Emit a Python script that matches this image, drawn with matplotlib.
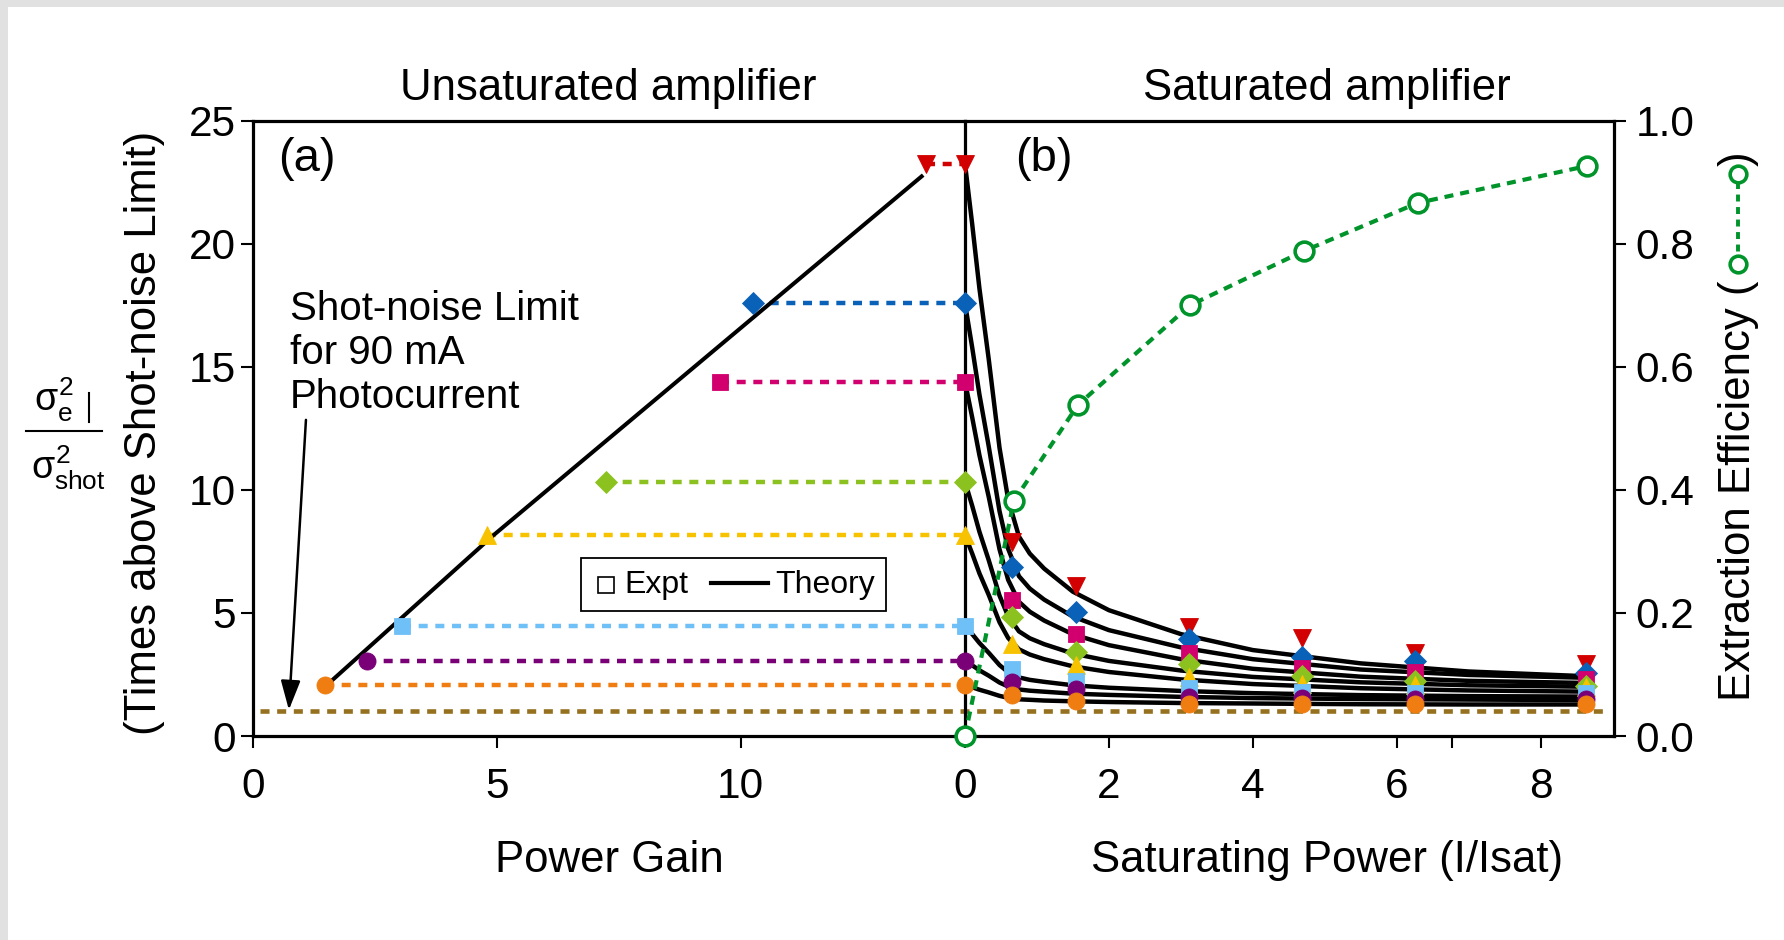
import matplotlib
matplotlib.use('Agg')
import matplotlib.pyplot as plt
from matplotlib.lines import Line2D
from matplotlib.patches import Rectangle

plt.rcParams['font.family'] = ['Liberation Sans', 'DejaVu Sans']
plt.rcParams['mathtext.fontset'] = 'custom'
plt.rcParams['mathtext.rm'] = 'Liberation Sans'
plt.rcParams['mathtext.it'] = 'Liberation Sans'
plt.rcParams['lines.scale_dashes'] = False

W, H = 1784, 940


def fx(px):
    return px / W


def fy(py):
    return 1 - py / H


# ---- data ----
colors = ['#d20000', '#0a62b8', '#d2006e', '#8cc21f', '#f7c300', '#70c0f8', '#7a0078', '#ef7d12']
markers = ['v', 'D', 's', 'D', '^', 's', 'o', 'o']
msizes = [12.5, 11.3, 11.8, 11.3, 12.5, 11.8, 12.3, 12.3]

# (a) unsaturated amplifier: power gain and noise for each run
gain = [13.80, 10.26, 9.58, 7.23, 4.79, 3.05, 2.34, 1.48]
noise_unsat = [23.24, 17.57, 14.39, 10.33, 8.16, 4.48, 3.05, 2.07]

unsat_theory_gain = [1.61, 4.93, 13.71]
unsat_theory_noise = [2.25, 8.16, 22.73]

# (b) saturated amplifier: measured noise vs saturating power
sat_power = [0.0, 0.65, 1.54, 3.12, 4.69, 6.26, 8.63]
sat_red = [23.24, 7.90, 6.10, 4.44, 3.97, 3.36, 2.92]
sat_blue = [17.57, 6.88, 5.02, 3.94, 3.20, 3.06, 2.57]
sat_magenta = [14.39, 5.54, 4.13, 3.38, 2.75, 2.61, 2.30]
sat_green = [10.33, 4.84, 3.43, 2.91, 2.44, 2.25, 2.04]
sat_yellow = [8.16, 3.72, 2.90, 2.41, 2.11, 2.07, 2.00]
sat_lightblue = [4.48, 2.74, 2.23, 1.94, 1.80, 1.73, 1.73]
sat_purple = [3.05, 2.19, 1.90, 1.60, 1.56, 1.50, 1.49]
sat_orange = [2.07, 1.65, 1.42, 1.30, 1.30, 1.30, 1.30]
sat_all = [sat_red, sat_blue, sat_magenta, sat_green, sat_yellow,
           sat_lightblue, sat_purple, sat_orange]

# theory curves in (b)
theory_power = [0, 0.1, 0.2, 0.33, 0.48, 0.6, 0.75, 0.9, 1.1, 1.5, 2.0, 3.0, 4.0, 5.5, 7.0, 8.7]
th_red = [23.24, 20.79, 18.19, 15.30, 11.70, 9.61, 8.10, 7.41, 6.80, 5.86, 5.11, 4.14, 3.49, 2.95, 2.62, 2.42]
th_blue = [17.57, 15.78, 13.88, 11.76, 9.13, 7.60, 6.49, 5.99, 5.54, 4.85, 4.30, 3.60, 3.12, 2.70, 2.48, 2.36]
th_magenta = [14.39, 12.94, 11.41, 9.71, 7.58, 6.34, 5.45, 5.05, 4.69, 4.13, 3.69, 3.12, 2.73, 2.41, 2.24, 2.15]
th_green = [10.33, 9.35, 8.30, 7.14, 5.70, 4.86, 4.25, 3.97, 3.73, 3.35, 3.05, 2.66, 2.40, 2.18, 2.06, 2.00]
th_yellow = [8.16, 7.41, 6.61, 5.73, 4.62, 3.98, 3.52, 3.31, 3.12, 2.83, 2.60, 2.30, 2.11, 1.94, 1.85, 1.80]
th_lightblue = [4.48, 4.14, 3.78, 3.38, 2.88, 2.59, 2.38, 2.28, 2.20, 2.06, 1.96, 1.83, 1.74, 1.66, 1.62, 1.60]
th_purple = [3.05, 2.87, 2.67, 2.45, 2.17, 2.01, 1.89, 1.84, 1.80, 1.72, 1.67, 1.59, 1.54, 1.50, 1.48, 1.46]
th_orange = [2.07, 1.98, 1.88, 1.77, 1.63, 1.55, 1.49, 1.47, 1.44, 1.41, 1.38, 1.34, 1.32, 1.29, 1.28, 1.28]
th_all = [th_red, th_blue, th_magenta, th_green, th_yellow, th_lightblue, th_purple, th_orange]

# extraction efficiency (right axis)
eff_power = [0.0, 0.68, 1.57, 3.13, 4.71, 6.29, 8.64]
efficiency = [0.0, 0.382, 0.538, 0.700, 0.788, 0.866, 0.926]

shot_noise = 1.0
shot_x = [0.13, 27.79]   # in gain units, runs on across panel (b)

green = '#00942b'
brown = '#94701f'

fig = plt.figure(figsize=(W / 100, H / 100), dpi=100)
fig.add_artist(Rectangle((0, fy(7)), 1, 7 / H, transform=fig.transFigure,
                         facecolor='#e1e1e1', edgecolor='none'))
fig.add_artist(Rectangle((0, 0), 8 / W, 1, transform=fig.transFigure,
                         facecolor='#e1e1e1', edgecolor='none'))

top, bot = 120.5, 736
ax_a = fig.add_axes([fx(253.3), fy(bot), (965 - 253.3) / W, (bot - top) / H])
ax_b = fig.add_axes([fx(965), fy(bot), (1614 - 965) / W, (bot - top) / H])
ax_b.patch.set_visible(False)
ax_e = ax_b.twinx()

XA = 14.6
ax_a.set_xlim(0, XA)
ax_a.set_ylim(0, 25)
ax_b.set_xlim(0, 9.02)
ax_b.set_ylim(0, 25)
ax_e.set_ylim(0, 1)

for ax in (ax_a, ax_b, ax_e):
    for s in ax.spines.values():
        s.set_linewidth(2.3)
ax_a.spines['right'].set_visible(False)
ax_b.spines['right'].set_visible(False)
for k in ('left', 'top', 'bottom'):
    ax_e.spines[k].set_visible(False)

tick_kw = dict(direction='out', length=8.6, width=1.5, labelsize=30.5)
ax_a.set_xticks([0, 5, 10])
ax_a.set_yticks([0, 5, 10, 15, 20, 25])
ax_a.tick_params(axis='x', pad=13.5, **tick_kw)
ax_a.tick_params(axis='y', pad=4, **tick_kw)
ax_b.set_xticks([0, 2, 4, 6, 8])
ax_b.set_xticks([6.77], minor=True)
ax_b.tick_params(axis='x', which='both', pad=13.5, **tick_kw)
ax_b.tick_params(axis='y', left=False, labelleft=False)
ax_e.set_yticks([0, 0.2, 0.4, 0.6, 0.8, 1.0])
ax_e.set_yticklabels(['%.1f' % v for v in ax_e.get_yticks()])
ax_e.tick_params(axis='y', pad=7, **tick_kw)

# shot-noise limit
ax_a.plot(shot_x, [shot_noise, shot_noise], color=brown, lw=3.3,
          dashes=(6.5, 5.5), clip_on=False, zorder=1)

# panel (a)
ax_a.plot(unsat_theory_gain, unsat_theory_noise, color='k', lw=2.9, zorder=3)
for g, n, c, m, ms in zip(gain, noise_unsat, colors, markers, msizes):
    ax_a.plot([g, XA], [n, n], color=c, lw=3.2, dashes=(6.5, 5.5), zorder=2)
    ax_a.plot(g, n, marker=m, ms=ms, color=c, mec=c, mew=0.6, zorder=4)

# panel (b)
for th in th_all:
    ax_b.plot(theory_power, th, color='k', lw=3.2, zorder=2,
              solid_capstyle='round', solid_joinstyle='round')
for ys, c, m, ms in zip(sat_all, colors, markers, msizes):
    ax_b.plot(sat_power, ys, ls='none', marker=m, ms=ms, color=c, mec=c,
              mew=0.6, zorder=4, clip_on=False)

ax_e.plot(eff_power, efficiency, color=green, lw=3.0, dashes=(6.5, 5),
          marker='o', ms=13.5, mfc='white', mec=green, mew=2.6,
          clip_on=False, zorder=5)

# annotation
ax_a.text(0.75, 16.9, 'Shot-noise Limit', fontsize=29, va='baseline')
ax_a.text(0.75, 15.11, 'for 90 mA', fontsize=29, va='baseline')
ax_a.text(0.75, 13.32, 'Photocurrent', fontsize=29, va='baseline')
ax_a.annotate('', xy=(0.73, 1.06), xytext=(1.08, 12.84),
              arrowprops=dict(arrowstyle='-|>,head_length=0.9,head_width=0.3',
                              color='k', lw=1.8, shrinkA=0, shrinkB=0,
                              mutation_scale=20))
ax_a.text(0.035, 0.937, '(a)', transform=ax_a.transAxes, fontsize=34, va='center')
ax_b.text(0.0775, 0.937, '(b)', transform=ax_b.transAxes, fontsize=34, va='center')

# legend box
fig.add_artist(Rectangle((fx(581), fy(611)), (886 - 581) / W, (611 - 558) / H,
                         transform=fig.transFigure, facecolor='white',
                         edgecolor='k', lw=1.3))
fig.add_artist(Line2D([fx(605.5)], [fy(584.5)], marker='s', ms=11.5,
                      mfc='white', mec='k', mew=1.2, ls='none'))
fig.text(fx(624.6), fy(592.7), 'Expt', fontsize=23, va='baseline')
fig.add_artist(Line2D([fx(710.7), fx(768)], [fy(583.3), fy(583.3)], color='k', lw=3))
fig.text(fx(775), fy(592.7), 'Theory', fontsize=23, va='baseline')

# titles and axis labels
fig.text(fx(608.7), fy(100), 'Unsaturated amplifier', fontsize=31.5, ha='center', va='baseline')
fig.text(fx(1326.7), fy(100), 'Saturated amplifier', fontsize=31.5, ha='center', va='baseline')
fig.text(fx(609.8), fy(871.7), 'Power Gain', fontsize=31.5, ha='center', va='baseline')
fig.text(fx(1327), fy(871.7), 'Saturating Power (I/Isat)', fontsize=31.5, ha='center', va='baseline')

fig.text(fx(145), fy(433), '(Times above Shot-noise Limit)', fontsize=31.5,
         rotation=90, ha='center', va='center')
fig.text(fx(54), fy(400), r'$\sigma_e^2$', fontsize=27, ha='center', va='center')
fig.text(fx(68), fy(468), r'$\sigma_{shot}^2$', fontsize=27, ha='center', va='center')
fig.add_artist(Line2D([fx(26), fx(102)], [fy(431), fy(431)], color='k', lw=1.5))
fig.add_artist(Line2D([fx(89), fx(89)], [fy(393), fy(422)], color='k', lw=1.5))

fig.text(fx(1750), fy(701), 'Extraction Efficiency (', fontsize=31.5, rotation=90,
         rotation_mode='anchor', ha='left', va='baseline')
fig.add_artist(Line2D([fx(1738), fx(1738)], [fy(264), fy(174)], color=green, lw=2.8,
                      dashes=(5, 4), marker='o', ms=12, mfc='white', mec=green, mew=2.6))
fig.text(fx(1750), fy(166), ')', fontsize=31.5, rotation=90,
         rotation_mode='anchor', ha='left', va='baseline')

fig.savefig('out.png', dpi=100)
